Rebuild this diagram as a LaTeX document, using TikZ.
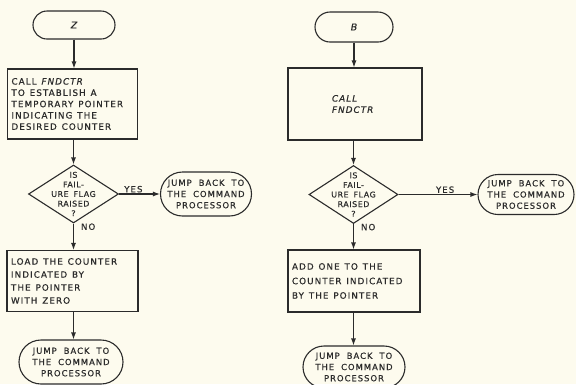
\documentclass[tikz,border=0pt]{standalone}
\usepackage{fontspec}
\setmainfont{DejaVu Sans}
\newfontfamily\lettering[LetterSpace=12, WordSpace=1.9, FakeBold=0.5]{DejaVu Sans}
\newfontfamily\letteringtight[LetterSpace=7, WordSpace=1.6, FakeBold=0.5]{DejaVu Sans}
\usetikzlibrary{shapes.geometric,shapes.misc,arrows.meta}

\definecolor{paper}{HTML}{FDFBEE}
\definecolor{ink}{HTML}{2B2B2B}

% lettering for the process boxes; argument = leading
\newcommand\boxfont[1]{\lettering\fontsize{8.8}{#1}\selectfont}

\tikzset{
  link/.style={draw=ink, line width=1.1pt, -{Latex[length=7pt,width=5pt]}},
  term/.style={draw=ink, line width=1.1pt, rounded rectangle, inner sep=0pt, align=center, text=ink,
    font=\lettering\fontsize{8.4}{11.2}\selectfont},
  % ragged-right setup resets the word gap, so restore a wide one inside the box
  stepbox/.style={draw=ink, line width=1.1pt, rectangle, inner xsep=4pt, align=left, text=ink,
    font=\boxfont{11.3}, execute at begin node={\spaceskip=0.55em plus 0.1em\relax}},
  decide/.style={draw=ink, line width=1.1pt, diamond, inner sep=0pt, minimum width=90pt, minimum height=58pt},
  dtext/.style={align=center, text=ink, font=\letteringtight\fontsize{7.9}{9.6}\selectfont},
  tag/.style={text=ink, font=\lettering\fontsize{8.6}{10}\selectfont, inner sep=1pt},
  entry/.style={term, font=\lettering\itshape\fontsize{9.5}{11}\selectfont},
}

\begin{document}
\begin{tikzpicture}[x=1pt, y=-1pt]
\useasboundingbox (0,0) rectangle (576,384);
\fill[paper] (0,0) rectangle (576,384);

% ---- routine Z: clear a counter ----
\node[entry, minimum width=82pt, minimum height=28pt] (z) at (74,25) {Z};
\node[stepbox, minimum width=130pt, minimum height=70pt, text width=122pt] (z1) at (72.5,104)
  {CALL \textit{FNDCTR}\\TO ESTABLISH A\\TEMPORARY POINTER\\INDICATING THE\\DESIRED COUNTER};
\node[decide, label={[dtext]center:IS\\FAIL-\\URE FLAG\\RAISED\\?}] (zd) at (73.5,194) {};
\node[term, minimum width=91pt, minimum height=44pt] (zj1) at (206,194)
  {JUMP BACK TO\\THE COMMAND\\PROCESSOR};
\node[stepbox, minimum width=131pt, minimum height=61pt, text width=123pt, font=\boxfont{13}] (z2) at (72.5,281)
  {LOAD THE COUNTER\\INDICATED BY\\THE POINTER\\WITH ZERO};
\node[term, minimum width=104pt, minimum height=44pt] (zj2) at (71,362)
  {JUMP BACK TO\\THE COMMAND\\PROCESSOR};

\draw[link] (z.south) -- (z.south |- z1.north);
\draw[link] (z1.south -| zd.north) -- (zd.north);
\draw[link] (zd.east) -- node[tag, above, pos=0.35] {YES} (zj1.west);
\draw[link] (zd.south) -- node[tag, anchor=west, pos=0.12, xshift=6pt] {NO} (zd.south |- z2.north);
\draw[link] (z2.south -| zd.south) -- (zd.south |- zj2.north);

% ---- routine B: bump a counter ----
\node[entry, minimum width=78pt, minimum height=30pt] (b) at (354,27) {B};
\node[stepbox, minimum width=134pt, minimum height=72pt, text width=126pt] (b1) at (355,104)
  {\hspace*{40pt}\textit{CALL}\\\hspace*{40pt}\textit{FNDCTR}};
\node[decide, minimum width=89pt, label={[dtext]center:IS\\FAIL-\\URE FLAG\\RAISED\\?}] (bd) at (353.5,194.5) {};
\node[term, minimum width=96pt, minimum height=40pt] (bj1) at (526,194.5)
  {JUMP BACK TO\\THE COMMAND\\PROCESSOR};
\node[stepbox, minimum width=132pt, minimum height=62pt, text width=124pt, font=\boxfont{14.5}] (b2) at (354,281)
  {ADD ONE TO THE\\COUNTER INDICATED\\BY THE POINTER};
\node[term, minimum width=102pt, minimum height=42pt] (bj2) at (354,367)
  {JUMP BACK TO\\THE COMMAND\\PROCESSOR};

\draw[link] (b.south) -- (b.south |- b1.north);
\draw[link] (b1.south -| bd.north) -- (bd.north);
\draw[link] (bd.east) -- node[tag, above, pos=0.59] {YES} (bj1.west);
\draw[link] (bd.south) -- node[tag, anchor=west, pos=0.12, xshift=6pt] {NO} (bd.south |- b2.north);
\draw[link] (b2.south -| bd.south) -- (bd.south |- bj2.north);
\end{tikzpicture}
\end{document}
